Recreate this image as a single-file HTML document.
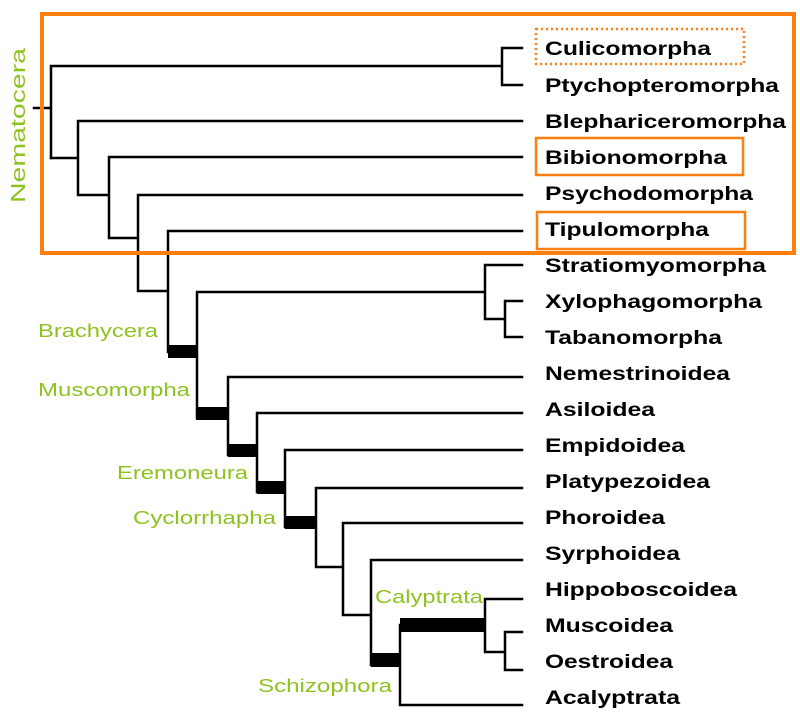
<!DOCTYPE html>
<html><head><meta charset="utf-8"><style>html,body{margin:0;padding:0;background:#fff}svg{display:block}</style></head>
<body>
<svg width="800" height="726" viewBox="0 0 800 726" xmlns="http://www.w3.org/2000/svg">
<g stroke="#000" stroke-width="2.5" fill="none" stroke-linecap="square">
<path d="M34 108H51M51 66V158M51 66H502M502 48V85M502 48H522M502 85H522"/>
<path d="M51 158H78M78 121V195M78 121H522M78 195H109M109 157V238M109 157H522M109 238H138M138 195V291M138 195H522M138 291H168M168 231V352M168 231H522"/>
<path d="M197 292V418M197 292H485M485 265V319M485 265H522M485 319H505M505 301V337M505 301H522M505 337H522"/>
<path d="M228 377V455M228 377H522M257 413V492M257 413H522M285 450V527M285 450H522M316 488V567M316 488H522M316 567H343M343 523V615M343 523H522M343 615H371M371 560V665M371 560H522M400 625V705M400 705H522M485 599V652M485 599H522M485 652H505M505 632V670M505 632H522M505 670H522"/>
</g>
<g fill="#000">
<rect x="168" y="345" width="30" height="13"/>
<rect x="196" y="407" width="32" height="13"/>
<rect x="228" y="444" width="29" height="13"/>
<rect x="257" y="481" width="28" height="13"/>
<rect x="285" y="516" width="31" height="13"/>
<rect x="371" y="653" width="30" height="14"/>
<rect x="400" y="618" width="86" height="14"/>
</g>
<rect x="42" y="14" width="752" height="239" fill="none" stroke="#ff7f0e" stroke-width="4"/>
<rect x="536" y="29" width="208" height="35" fill="none" stroke="#ff7f0e" stroke-width="2.5" stroke-dasharray="2,3"/>
<rect x="536" y="138" width="207" height="37" fill="none" stroke="#ff7f0e" stroke-width="2.5"/>
<rect x="537" y="212" width="208" height="37" fill="none" stroke="#ff7f0e" stroke-width="2.5"/>
<g font-family="Liberation Sans, sans-serif" font-weight="bold" font-size="19" fill="#000">
<text x="545" y="55" textLength="166" lengthAdjust="spacingAndGlyphs">Culicomorpha</text>
<text x="545" y="92" textLength="234" lengthAdjust="spacingAndGlyphs">Ptychopteromorpha</text>
<text x="545" y="128" textLength="241" lengthAdjust="spacingAndGlyphs">Blephariceromorpha</text>
<text x="545" y="164" textLength="182" lengthAdjust="spacingAndGlyphs">Bibionomorpha</text>
<text x="545" y="200" textLength="208" lengthAdjust="spacingAndGlyphs">Psychodomorpha</text>
<text x="545" y="236" textLength="164" lengthAdjust="spacingAndGlyphs">Tipulomorpha</text>
<text x="545" y="272" textLength="221" lengthAdjust="spacingAndGlyphs">Stratiomyomorpha</text>
<text x="545" y="308" textLength="217" lengthAdjust="spacingAndGlyphs">Xylophagomorpha</text>
<text x="545" y="344" textLength="177" lengthAdjust="spacingAndGlyphs">Tabanomorpha</text>
<text x="545" y="380" textLength="185" lengthAdjust="spacingAndGlyphs">Nemestrinoidea</text>
<text x="545" y="416" textLength="110" lengthAdjust="spacingAndGlyphs">Asiloidea</text>
<text x="545" y="452" textLength="140" lengthAdjust="spacingAndGlyphs">Empidoidea</text>
<text x="545" y="488" textLength="165" lengthAdjust="spacingAndGlyphs">Platypezoidea</text>
<text x="545" y="524" textLength="120" lengthAdjust="spacingAndGlyphs">Phoroidea</text>
<text x="545" y="560" textLength="135" lengthAdjust="spacingAndGlyphs">Syrphoidea</text>
<text x="545" y="596" textLength="192" lengthAdjust="spacingAndGlyphs">Hippoboscoidea</text>
<text x="545" y="632" textLength="128" lengthAdjust="spacingAndGlyphs">Muscoidea</text>
<text x="545" y="668" textLength="128" lengthAdjust="spacingAndGlyphs">Oestroidea</text>
<text x="545" y="704" textLength="135" lengthAdjust="spacingAndGlyphs">Acalyptrata</text>
</g>
<g font-family="Liberation Sans, sans-serif" font-size="18" fill="#8dc21f">
<text x="38" y="337" textLength="120" lengthAdjust="spacingAndGlyphs">Brachycera</text>
<text x="38" y="396" textLength="152" lengthAdjust="spacingAndGlyphs">Muscomorpha</text>
<text x="117" y="479" textLength="131" lengthAdjust="spacingAndGlyphs">Eremoneura</text>
<text x="133" y="524" textLength="143" lengthAdjust="spacingAndGlyphs">Cyclorrhapha</text>
<text x="375" y="603" textLength="108" lengthAdjust="spacingAndGlyphs">Calyptrata</text>
<text x="258" y="692" textLength="134" lengthAdjust="spacingAndGlyphs">Schizophora</text>
<text transform="translate(25,203) rotate(-90)" font-size="20" textLength="155" lengthAdjust="spacingAndGlyphs">Nematocera</text>
</g>
</svg>
</body></html>
